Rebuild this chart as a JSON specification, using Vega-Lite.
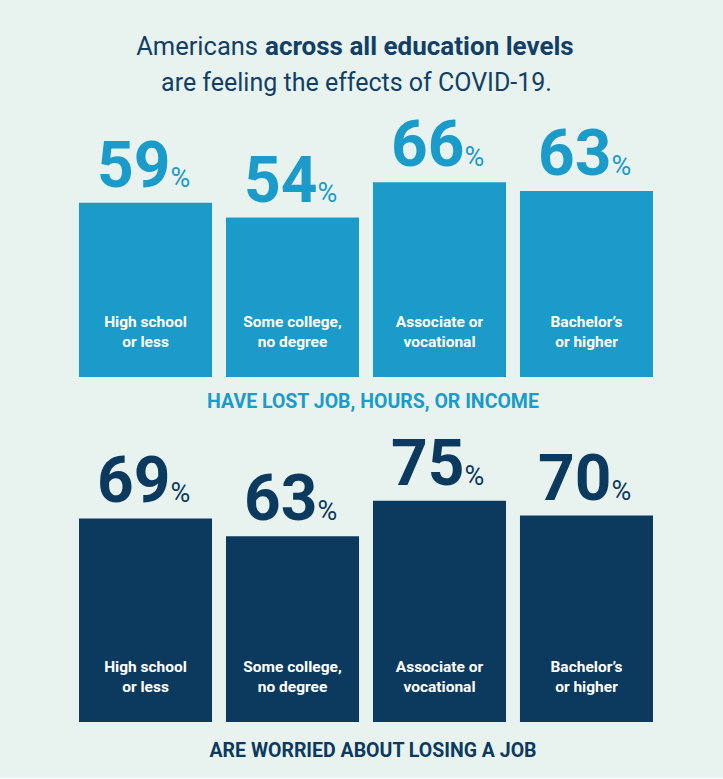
{
  "$schema": "https://vega.github.io/schema/vega-lite/v6.json",
  "background": "#e8f3f0",
  "padding": {"left": 79, "right": 70, "top": 8, "bottom": 18},
  "bounds": "flush",
  "spacing": 50,
  "config": {"view": {"stroke": null}, "font": "Roboto"},
  "datasets": {
    "lost": [
      {"edu": "High school\nor less", "value": 59},
      {"edu": "Some college,\nno degree", "value": 54},
      {"edu": "Associate or\nvocational", "value": 66},
      {"edu": "Bachelor’s\nor higher", "value": 63}
    ],
    "worried": [
      {"edu": "High school\nor less", "value": 69},
      {"edu": "Some college,\nno degree", "value": 63},
      {"edu": "Associate or\nvocational", "value": 75},
      {"edu": "Bachelor’s\nor higher", "value": 70}
    ]
  },
  "vconcat": [
    {
      "width": 574,
      "height": 369,
      "title": {"text": "HAVE LOST JOB, HOURS, OR INCOME", "orient": "bottom", "offset": 16, "dx": 7, "fontSize": 19.5, "fontWeight": "bold", "font": "Roboto", "color": "#1a9bca"},
      "layer": [
        {
          "data": {"name": "lost"},
          "mark": {"type": "bar", "color": "#1a9bca"},
          "encoding": {
            "x": {"field": "edu", "type": "nominal", "sort": null, "axis": null, "scale": {"paddingInner": 0.095, "paddingOuter": 0}},
            "y": {"field": "value", "type": "quantitative", "axis": null, "scale": {"domain": [0, 125], "nice": false}}
          }
        },
        {
          "data": {"name": "lost"},
          "mark": {"type": "text", "align": "right", "baseline": "alphabetic", "dx": 25, "dy": -16, "fontSize": 64, "fontWeight": "bold", "color": "#1a9bca"},
          "encoding": {
            "x": {"field": "edu", "type": "nominal", "sort": null},
            "y": {"field": "value", "type": "quantitative"},
            "text": {"field": "value", "type": "quantitative"}
          }
        },
        {
          "data": {"name": "lost"},
          "mark": {"type": "text", "align": "left", "baseline": "alphabetic", "dx": 25, "dy": -16, "fontSize": 27, "color": "#1a9bca"},
          "encoding": {
            "x": {"field": "edu", "type": "nominal", "sort": null},
            "y": {"field": "value", "type": "quantitative"},
            "text": {"value": "%"}
          }
        },
        {
          "data": {"name": "lost"},
          "mark": {"type": "text", "align": "center", "baseline": "alphabetic", "dy": -50, "fontSize": 15.5, "fontWeight": "bold", "color": "white", "lineBreak": "\n", "lineHeight": 20},
          "encoding": {
            "x": {"field": "edu", "type": "nominal", "sort": null},
            "y": {"datum": 0, "type": "quantitative"},
            "text": {"field": "edu"}
          }
        },
        {
          "data": {"values": [{"t": "Americans"}]},
          "mark": {"type": "text", "align": "right", "baseline": "alphabetic", "dx": -108, "dy": 47, "fontSize": 25.5, "color": "#123f66"},
          "encoding": {"y": {"datum": 125, "type": "quantitative"}, "text": {"field": "t"}}
        },
        {
          "data": {"values": [{"t": "across all education levels"}]},
          "mark": {"type": "text", "align": "left", "baseline": "alphabetic", "dx": -101, "dy": 47, "fontSize": 26, "fontWeight": "bold", "color": "#123f66"},
          "encoding": {"y": {"datum": 125, "type": "quantitative"}, "text": {"field": "t"}}
        },
        {
          "data": {"values": [{"t": "are feeling the effects of COVID-19."}]},
          "mark": {"type": "text", "align": "center", "baseline": "alphabetic", "dx": -9.5, "dy": 83, "fontSize": 25, "color": "#123f66"},
          "encoding": {"y": {"datum": 125, "type": "quantitative"}, "text": {"field": "t"}}
        }
      ]
    },
    {
      "width": 574,
      "height": 295,
      "data": {"name": "worried"},
      "title": {"text": "ARE WORRIED ABOUT LOSING A JOB", "orient": "bottom", "offset": 19.5, "dx": 7, "fontSize": 19.5, "fontWeight": "bold", "font": "Roboto", "color": "#0b3a5e"},
      "encoding": {
        "x": {"field": "edu", "type": "nominal", "sort": null, "axis": null, "scale": {"paddingInner": 0.095, "paddingOuter": 0}},
        "y": {"field": "value", "type": "quantitative", "axis": null, "scale": {"domain": [0, 100], "nice": false}}
      },
      "layer": [
        {"mark": {"type": "bar", "color": "#0b3a5e"}},
        {
          "mark": {"type": "text", "align": "right", "baseline": "alphabetic", "dx": 25, "dy": -16, "fontSize": 64, "fontWeight": "bold", "color": "#0b3a5e"},
          "encoding": {"text": {"field": "value", "type": "quantitative"}}
        },
        {
          "mark": {"type": "text", "align": "left", "baseline": "alphabetic", "dx": 25, "dy": -16, "fontSize": 27, "color": "#0b3a5e"},
          "encoding": {"text": {"value": "%"}}
        },
        {
          "mark": {"type": "text", "align": "center", "baseline": "alphabetic", "dy": -50, "fontSize": 15.5, "fontWeight": "bold", "color": "white", "lineBreak": "\n", "lineHeight": 20},
          "encoding": {"y": {"datum": 0, "type": "quantitative"}, "text": {"field": "edu"}}
        }
      ]
    }
  ]
}
